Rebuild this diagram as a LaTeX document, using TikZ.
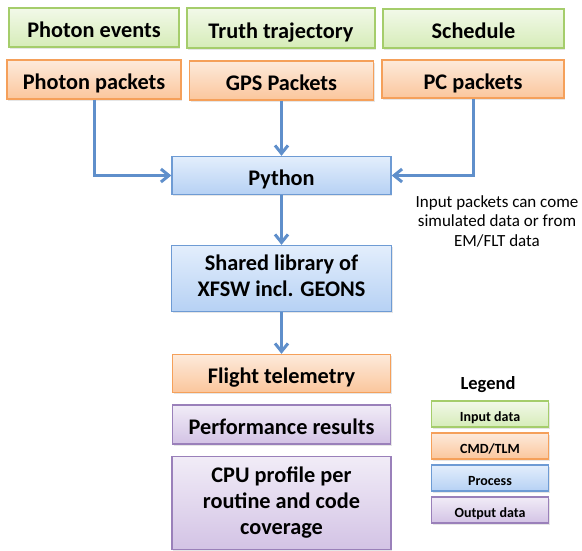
\documentclass[tikz,border=0pt]{standalone}
\usepackage{fontspec}
\setmainfont{Carlito}
\usetikzlibrary{arrows.meta, shadows}

\definecolor{greenline}{HTML}{A5CD6B}
\definecolor{greentop}{HTML}{F2F9E9}
\definecolor{greenbot}{HTML}{D6ECB8}
\definecolor{orangeline}{HTML}{F5A05A}
\definecolor{orangetop}{HTML}{FDEADB}
\definecolor{orangebot}{HTML}{FBC69C}
\definecolor{blueline}{HTML}{6E9BD4}
\definecolor{bluetop}{HTML}{E3EEFC}
\definecolor{bluebot}{HTML}{B6D1F4}
\definecolor{purpleline}{HTML}{9A80BA}
\definecolor{purpletop}{HTML}{F1ECF7}
\definecolor{purplebot}{HTML}{D3C3E5}
\definecolor{arrowblue}{HTML}{5F8FCB}

\tikzset{
    strut top/.store in=\strutTop, strut top=25pt,
    strut bot/.store in=\strutBot, strut bot=5pt,
    box/.style={line width=1.4pt, inner sep=0pt, align=center,
        font=\fontsize{22.3}{26}\selectfont\bfseries,
        execute at begin node={\rule{0pt}{\strutTop}},
        execute at end node={\rule[-\strutBot]{0pt}{\strutBot}},
        drop shadow={shadow xshift=1pt, shadow yshift=-1.5pt, opacity=0.2}},
    multi/.style={strut top=22pt},
    input/.style={box, draw=greenline, top color=greentop, bottom color=greenbot},
    cmd/.style={box, draw=orangeline, top color=orangetop, bottom color=orangebot},
    proc/.style={box, draw=blueline, top color=bluetop, bottom color=bluebot},
    output/.style={box, draw=purpleline, top color=purpletop, bottom color=purplebot},
    legbox/.style={font=\fontsize{14}{16}\selectfont\bfseries, minimum width=117pt, minimum height=26pt,
        strut top=18pt, strut bot=3pt},
    flow/.style={draw=arrowblue, line width=3pt, -{Straight Barb[length=8pt, width=13pt]}}
}

\begin{document}
\begin{tikzpicture}[x=1pt, y=-1pt]
    \useasboundingbox (0,0) rectangle (582,550);

    % input data
    \node[input, minimum width=170pt, minimum height=39pt] (events) at (94,27.5) {Photon events};
    \node[input, minimum width=188pt, minimum height=40pt] (truth) at (281,28) {Truth trajectory};
    \node[input, minimum width=181pt, minimum height=39pt] (sched) at (473.5,28.5) {Schedule};

    % packets
    \node[cmd, minimum width=174pt, minimum height=39pt] (photon) at (94,79.5) {Photon packets};
    \node[cmd, minimum width=184pt, minimum height=39pt] (gps) at (281.5,80.5) {GPS Packets};
    \node[cmd, minimum width=182pt, minimum height=38pt] (pc) at (473,79) {PC packets};

    % processing chain
    \node[proc, minimum width=219pt, minimum height=38pt] (python) at (281.5,175.5) {Python};
    \node[proc, multi, minimum width=220pt, minimum height=66pt] (lib) at (281.5,278.5) {Shared library of\\XFSW incl. GEONS};
    \node[cmd, minimum width=218pt, minimum height=38pt] (flight) at (281.5,373.5) {Flight telemetry};
    \node[output, minimum width=218pt, minimum height=39pt] (perf) at (281.5,424.5) {Performance results};
    \node[output, multi, minimum width=219pt, minimum height=93pt] (cpu) at (281.5,503) {CPU profile per\\routine and code\\coverage};

    \draw[flow] (photon.south) |- (python.west);
    \draw[flow] (gps) -- (python);
    \draw[flow] (pc.south) |- (python.east);
    \draw[flow] (python) -- (lib);
    \draw[flow] (lib) -- (flight);

    \node[align=center, font=\fontsize{17}{19.5}\selectfont] (note) at (497,221)
        {Input packets can come\\simulated data or from\\EM/FLT data};

    % legend
    \node[font=\fontsize{18.5}{22}\selectfont\bfseries] (legend) at (488,385) {Legend};
    \foreach \y/\kind/\txt [count=\k] in {414/input/Input data, 446/cmd/{CMD/TLM}, 478/proc/Process, 510/output/Output data}
        \node[\kind, legbox] (leg\k) at (490,\y) {\txt};
\end{tikzpicture}
\end{document}
